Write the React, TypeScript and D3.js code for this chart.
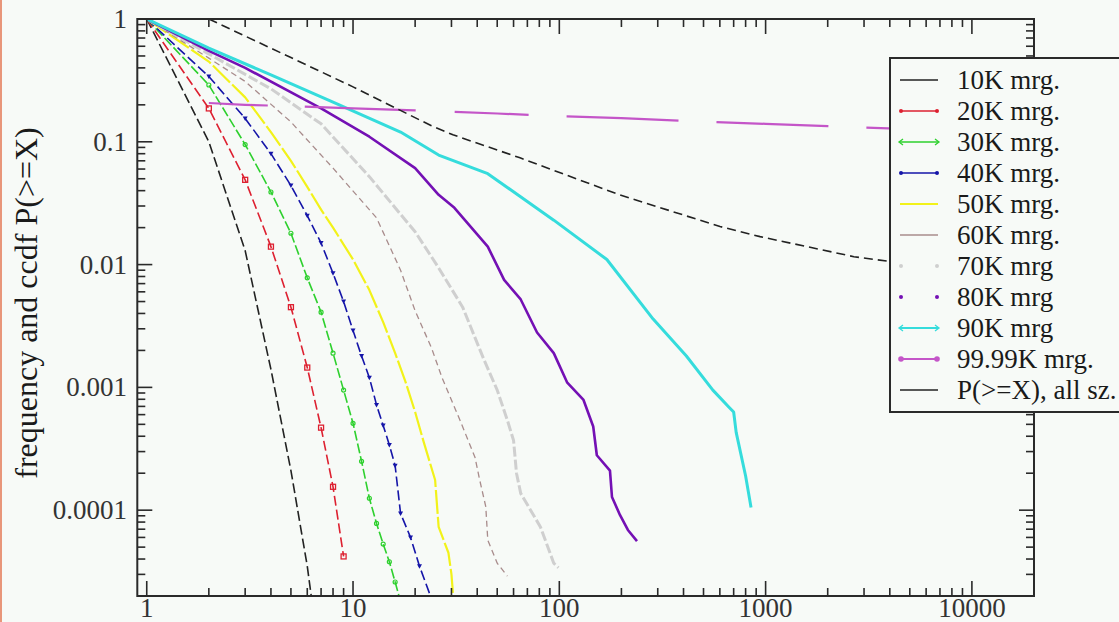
import React from "react";
import * as d3 from "d3";

// ---- data ----
const s10K: [number, number][] = [[1,1],[2,0.1],[3,0.013],[4,0.0014],[5,2.1e-4],[6,3.5e-5],[7,5e-6]];
const s20K: [number, number][] = [[1,1],[2,0.187],[3,0.049],[4,0.014],[5,0.0045],[6,0.00145],[7,4.7e-4],[8,1.55e-4],[9,4.2e-5]];
const s30K: [number, number][] = [[1,1],[2,0.29],[3,0.095],[4,0.039],[5,0.018],[6,0.0078],[7,0.0041],[8,0.0019],[9,9.5e-4],[10,5.1e-4],[11,2.5e-4],[12,1.25e-4],[13,7.8e-5],[14,5.3e-5],[15,3.8e-5],[16,2.6e-5],[17,1.8e-5]];
const s40K: [number, number][] = [[1,1],[2,0.34],[3,0.155],[4,0.08],[5,0.044],[6,0.025],[7,0.015],[8,0.0085],[9,0.005],[10,0.0029],[11,0.0018],[12,0.0012],[13,7.2e-4],[14,4.9e-4],[15,3.4e-4],[16,2.3e-4],[17,9.4e-5],[19,6e-5],[21,3.5e-5],[24,1.9e-5]];
const s50K: [number, number][] = [[1,1],[2,0.45],[3,0.23],[4,0.12],[5,0.07],[6,0.043],[7,0.028],[8,0.02],[10,0.011],[12,0.0062],[14,0.0034],[16,0.0019],[18,0.0011],[20,6.3e-4],[22,3.6e-4],[25,1.76e-4],[26,7.3e-5],[29,4.5e-5],[30,3.0e-5],[31,1.5e-5]];
const s60K: [number, number][] = [[1,1],[2,0.48],[3,0.31],[5,0.145],[8,0.061],[13,0.024],[17,0.009],[20,0.0042],[24,0.0021],[27,0.0012],[33,5.4e-4],[39,2.7e-4],[41,1.8e-4],[44,1.07e-4],[45,5.7e-5],[50,3.7e-5],[56,2.9e-5]];
const s70K: [number, number][] = [[1,1],[2,0.52],[4,0.27],[7,0.14],[12,0.052],[20,0.0185],[26,0.0094],[34,0.0045],[43,0.0017],[50,9.5e-4],[56,5.4e-4],[60,3.7e-4],[62,2.0e-4],[65,1.37e-4],[81,7.3e-5],[94,3.7e-5],[99,3.4e-5]];
const s80K: [number, number][] = [[1,1],[2,0.55],[3,0.4],[7,0.187],[12,0.11],[20,0.061],[26,0.037],[31,0.029],[45,0.014],[54,0.0075],[65,0.0052],[78,0.0028],[94,0.0019],[109,0.0011],[131,7.9e-4],[146,4.8e-4],[152,2.8e-4],[176,2.1e-4],[180,1.28e-4],[197,9.1e-5],[215,6.9e-5],[238,5.6e-5]];
const s90K: [number, number][] = [[1,1],[2,0.58],[4,0.35],[8,0.21],[17,0.12],[26,0.078],[45,0.055],[94,0.023],[170,0.011],[285,0.0036],[413,0.0018],[555,9.5e-4],[670,6.8e-4],[700,6.3e-4],[720,4.3e-4],[800,1.9e-4],[850,1.05e-4]];
const s9999K: [number, number][] = [[2,0.207],[3,0.2],[5,0.195],[10,0.187],[20,0.18],[50,0.17],[100,0.162],[200,0.156],[500,0.146],[1000,0.14],[2000,0.134],[5000,0.127],[20000,0.116]];
const sAll: [number, number][] = [[2,1],[5,0.485],[10,0.28],[24,0.135],[30.5,0.114],[64.5,0.074],[196,0.037],[601,0.0204],[940,0.0169],[2679,0.0116],[3995,0.0106],[20000,0.0075]];

const legendLabels = ["10K mrg.","20K mrg.","30K mrg.","40K mrg.","50K mrg.","60K mrg.","70K mrg","80K mrg","90K mrg","99.99K mrg.","P(>=X), all sz."];
const xTickLabels = ["1","10","100","1000","10000"];
const xTickValues = [1,10,100,1000,10000];
const yTickLabels = ["1","0.1","0.01","0.001","0.0001"];
const yTickValues = [1,0.1,0.01,0.001,0.0001];
const yAxisTitle = "frequency and ccdf P(>=X)";

const FONT = "'Liberation Serif', 'Times New Roman', 'DejaVu Serif', serif";

export default function App() {
  const W = 1119, H = 622;
  const L = 137.3, R = 1034, T = 19, B = 596;
  const x = d3.scaleLog().domain([0.9, 20000]).range([L, R]);
  const y = d3.scaleLog().domain([2e-5, 1]).range([B, T]);
  const line = d3.line<[number, number]>().x(d => x(d[0])).y(d => y(d[1]));

  const series = [
    { data: s10K, color: "#222222", width: 1.6, dash: "10,4", marker: "none" },
    { data: s20K, color: "#dd2030", width: 1.6, dash: "10,4", marker: "square" },
    { data: s30K, color: "#2ed02e", width: 1.6, dash: "10,3", marker: "circle" },
    { data: s40K, color: "#1515a8", width: 1.6, dash: "10,4", marker: "tri" },
    { data: s50K, color: "#f2f21a", width: 2.2, dash: "24,3", marker: "none" },
    { data: s60K, color: "#a88c8c", width: 1.3, dash: "6,4", marker: "none" },
    { data: s70K, color: "#cfcfcf", width: 3, dash: "10,3", marker: "none" },
    { data: s80K, color: "#7410b4", width: 2.6, dash: "", marker: "none" },
    { data: s90K, color: "#35dcdc", width: 3, dash: "", marker: "none" },
    { data: s9999K, color: "#c455c8", width: 2.2, dash: "59,37,111,39,74,38,112,38,112,38,300,38", marker: "none" },
    { data: sAll, color: "#222222", width: 1.6, dash: "9,5", marker: "none" },
  ];

  const xMinor: number[] = [];
  for (let e = 0; e <= 4; e++) for (let m = 1; m <= 9; m++) {
    const v = m * Math.pow(10, e);
    if (v > 0.9 && v < 20000) xMinor.push(v);
  }
  const yMinor: number[] = [];
  for (let e = -5; e <= 0; e++) for (let m = 1; m <= 9; m++) {
    const v = m * Math.pow(10, e);
    if (v >= 2e-5 * 1.0001 && v <= 1.0001) yMinor.push(v);
  }
  const isMajor = (v: number) => Math.abs(Math.log10(v) - Math.round(Math.log10(v))) < 1e-9;

  const lgX = 890, lgY = 58, lgRow0 = 80, lgStep = 31;

  const marker = (kind: string, cx: number, cy: number, color: string, key: string) => {
    if (kind === "square") return <rect key={key} x={cx - 2.5} y={cy - 2.5} width={5} height={5} fill="none" stroke={color} strokeWidth={1.3} />;
    if (kind === "circle") return <circle key={key} cx={cx} cy={cy} r={2} fill="none" stroke={color} strokeWidth={1.2} />;
    if (kind === "tri") return <path key={key} d={`M${cx - 2.5},${cy - 2} L${cx + 2.5},${cy - 2} L${cx},${cy + 2.5} Z`} fill={color} />;
    return null;
  };

  return (
    <svg width={W} height={H} style={{ position: "absolute", left: 0, top: 0, background: "#f7faf7" }} fontFamily={FONT}>
      <rect x={0} y={0} width={W} height={H} fill="#f7faf7" />
      <rect x={0} y={0} width={2} height={H} fill="#e8967a" />
      <defs>
        <clipPath id="plotclip">
          <rect x={L} y={T} width={R - L} height={B - T} />
        </clipPath>
      </defs>

      {/* curves */}
      <g clipPath="url(#plotclip)">
        {series.map((s, i) => (
          <path key={i} d={line(s.data) || ""} fill="none" stroke={s.color} strokeWidth={s.width}
            strokeDasharray={s.dash || undefined} strokeLinejoin="round" />
        ))}
        {series.map((s, i) =>
          s.marker !== "none" ? s.data.slice(1).map((d, j) => marker(s.marker, x(d[0]), y(d[1]), s.color, `m${i}-${j}`)) : null
        )}
      </g>

      {/* frame */}
      <rect x={L} y={T} width={R - L} height={B - T} fill="none" stroke="#2a2a2a" strokeWidth={2} />

      {/* x ticks bottom & top */}
      {xMinor.map((v, i) => {
        const len = isMajor(v) ? 15 : 8;
        const px = x(v);
        return (
          <g key={"xt" + i} stroke="#2a2a2a" strokeWidth={1.6}>
            <line x1={px} x2={px} y1={B} y2={B - len} />
            <line x1={px} x2={px} y1={T} y2={T + len} />
          </g>
        );
      })}
      {/* y ticks left & right */}
      {yMinor.map((v, i) => {
        const len = isMajor(v) ? 15 : 8;
        const py = y(v);
        return (
          <g key={"yt" + i} stroke="#2a2a2a" strokeWidth={1.6}>
            <line x1={L} x2={L + len} y1={py} y2={py} />
            <line x1={R} x2={R - len} y1={py} y2={py} />
          </g>
        );
      })}

      {/* tick labels */}
      {xTickValues.map((v, i) => (
        <text key={"xl" + i} x={x(v)} y={617} textAnchor="middle" fontSize={27} fill="#333" fontFamily={FONT}>{xTickLabels[i]}</text>
      ))}
      {yTickValues.map((v, i) => (
        <text key={"yl" + i} x={127} y={y(v) + 9} textAnchor="end" fontSize={27} fill="#333" fontFamily={FONT}>{yTickLabels[i]}</text>
      ))}

      {/* axis title */}
      <text transform={`translate(37,303) rotate(-90)`} textAnchor="middle" fontSize={32} fill="#1a1a1a" fontFamily={FONT}>{yAxisTitle}</text>

      {/* legend */}
      <rect x={lgX} y={lgY} width={260} height={354} fill="#f7faf7" stroke="#2a2a2a" strokeWidth={2} />
      {legendLabels.map((lab, i) => {
        const cy = lgRow0 + i * lgStep;
        const s = series[i];
        const noLine = i === 6 || i === 7;
        return (
          <g key={"lg" + i}>
            {!noLine && <line x1={900} x2={938} y1={cy} y2={cy} stroke={s.color} strokeWidth={Math.min(s.width, 2.2)} />}
            {(i === 1 || i === 3 || i === 6 || i === 7 || i === 9) && (
              <g fill={s.color}>
                <circle cx={901} cy={cy} r={i === 9 ? 2.8 : 2} />
                <circle cx={937} cy={cy} r={i === 9 ? 2.8 : 2} />
              </g>
            )}
            {(i === 2 || i === 8) && (
              <g stroke={s.color} strokeWidth={1.3} fill="none">
                <path d={`M${903},${cy - 3} L${899},${cy} L${903},${cy + 3}`} />
                <path d={`M${935},${cy - 3} L${939},${cy} L${935},${cy + 3}`} />
              </g>
            )}
            <text x={957} y={cy + 9} fontSize={27} fill="#1a1a1a" fontFamily={FONT}>{lab}</text>
          </g>
        );
      })}
    </svg>
  );
}
